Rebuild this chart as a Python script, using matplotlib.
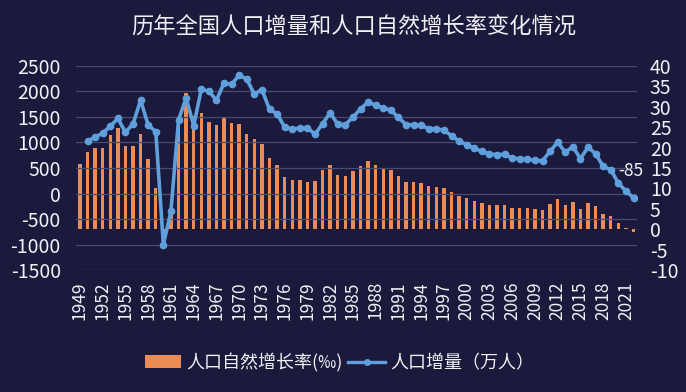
import matplotlib
matplotlib.use("Agg")
import matplotlib.pyplot as plt
import numpy as np
from matplotlib.lines import Line2D
from matplotlib.patches import Patch

plt.rcParams['font.family'] = ['Noto Sans CJK SC', 'DejaVu Sans']
plt.rcParams['axes.unicode_minus'] = False

years = list(range(1949, 2023))
growth_rate = [16.00, 19.00, 20.00, 20.00, 23.00, 24.79, 20.32, 20.50, 23.23, 17.24,
               10.19, -4.57, 3.78, 26.99, 33.33, 27.64, 28.38, 26.22, 25.53, 27.38,
               26.08, 25.83, 23.33, 22.16, 20.89, 17.48, 15.77, 12.72, 12.12, 12.00,
               11.61, 11.87, 14.55, 15.68, 13.29, 13.08, 14.26, 15.57, 16.61, 15.73,
               15.04, 14.39, 12.98, 11.60, 11.45, 11.21, 10.55, 10.42, 10.06, 9.14,
               8.18, 7.58, 6.95, 6.45, 6.01, 5.87, 5.89, 5.28, 5.17, 5.08,
               4.87, 4.79, 6.13, 7.43, 5.90, 6.71, 4.93, 6.53, 5.58, 3.78,
               3.32, 1.45, 0.34, -0.60]
line_years = list(range(1950, 2023))
pop_increase = [1029, 1104, 1182, 1314, 1470, 1199, 1363, 1825, 1341, 1213,
                -1000, -348, 1437, 1876, 1327, 2039, 2004, 1826, 2166, 2137,
                2321, 2237, 1948, 2034, 1648, 1561, 1297, 1257, 1285, 1283,
                1163, 1367, 1582, 1354, 1349, 1494, 1656, 1793, 1726, 1678,
                1629, 1490, 1348, 1346, 1333, 1271, 1268, 1237, 1135, 1025,
                957, 884, 826, 774, 761, 768, 692, 681, 673, 648,
                641, 825, 1006, 804, 920, 680, 906, 779, 530, 467,
                204, 48, -85]
xtick_years = list(range(1949, 2022, 3))

bg = '#1b1a3c'
bar_color = '#ec8c55'
line_color = '#5fa0dc'
grid_color = '#4a4a6c'
text_color = '#f0f0f5'

fig = plt.figure(figsize=(6.86, 3.92), dpi=100, facecolor=bg)
ax = fig.add_axes([0.111, 0.311, 0.818, 0.521], facecolor=bg)
ax2 = ax.twinx()

ax.set_ylim(-1500, 2500)
ax.set_yticks(np.arange(-1500, 2501, 500))
ax2.set_ylim(-10, 40)
ax2.set_yticks(np.arange(-10, 41, 5))
ax.set_xlim(1949 - 0.5, 2022 + 0.5)

for y in np.arange(-1500, 2501, 500):
    ax.axhline(y, color=grid_color, lw=0.9, zorder=0)

ax2.bar(years, growth_rate, width=0.45, color=bar_color, zorder=2)
ax.set_zorder(ax2.get_zorder() + 1)
ax.patch.set_visible(False)
ax.plot(line_years, pop_increase, color=line_color, lw=2.6, marker='o', ms=4.5,
        mfc=line_color, mec=line_color, zorder=3, solid_joinstyle='round')
ax.annotate(str(pop_increase[-1]), (line_years[-1], pop_increase[-1]),
            xytext=(-2, 13), textcoords='offset points', ha='center', va='bottom',
            color=text_color, fontsize=12.5)

for a in (ax, ax2):
    for s in a.spines.values():
        s.set_visible(False)
    a.tick_params(length=0, colors=text_color)

ax.set_xticks(xtick_years)
ax.set_xticklabels([str(y) for y in xtick_years], rotation=90, fontsize=12.5,
                   color=text_color)
ax.tick_params(axis='x', pad=8)
ax.tick_params(axis='y', labelsize=14, pad=11)
ax2.tick_params(axis='y', labelsize=14, pad=9)

fig.text(0.516, 0.93, '历年全国人口增量和人口自然增长率变化情况', ha='center', va='center',
         color=text_color, fontsize=16)

handles = [Patch(facecolor=bar_color, edgecolor='none'),
           Line2D([0], [0], color=line_color, lw=2.4, marker='o', ms=4)]
labels = ['人口自然增长率(‰)', '人口增量（万人）']
leg = fig.legend(handles, labels, loc='center', bbox_to_anchor=(0.495, 0.075), ncol=2,
                 frameon=False, fontsize=13, labelcolor=text_color,
                 handlelength=2.0, handletextpad=0.3, columnspacing=0.3)

fig.savefig('out.png', dpi=100, facecolor=bg)
